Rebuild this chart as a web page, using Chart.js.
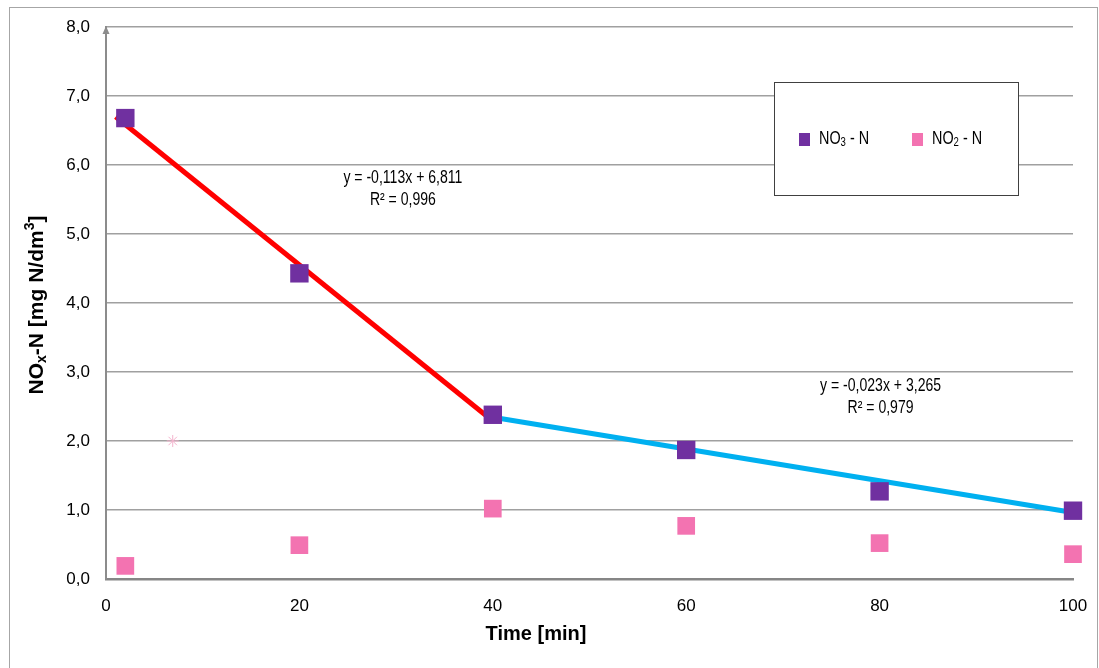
<!DOCTYPE html>
<html lang="en">
<head>
<meta charset="UTF-8">
<title>NOx-N over time</title>
<script src="https://cdn.jsdelivr.net/npm/chart.js"></script>
<style>
  html, body { margin: 0; padding: 0; background: #fff; }
  #wrap { width: 1099px; height: 668px; position: relative; }
</style>
</head>
<body>
<div id="wrap"><canvas id="chart"></canvas></div>
<script>
// measured points
const timeMin = [2, 20, 40, 60, 80, 100];
const no3 = [6.68, 4.43, 2.38, 1.87, 1.27, 0.99];
const no2 = [0.19, 0.49, 1.02, 0.77, 0.52, 0.36];

// trend lines, end points as drawn
const fit1X = [1, 40];
const fit1Y = [6.70, 2.29];
const fit2X = [40, 100];
const fit2Y = [2.345, 0.965];
const fit1Label = ['y = -0,113x + 6,811', 'R² = 0,996'];
const fit2Label = ['y = -0,023x + 3,265', 'R² = 0,979'];

// stray marker left in the sheet
const strayX = [6.9];
const strayY = [2.0];

const xTicks = [0, 20, 40, 60, 80, 100];
const yTicks = [0, 1, 2, 3, 4, 5, 6, 7, 8];

const PURPLE = '#7030A0';
const PINK = '#F373B1';
const FONT = '"Liberation Sans", Arial, sans-serif';

const toPts = (xs, ys) => xs.map((x, i) => ({ x: x, y: ys[i] }));

// draw a run of text pieces (sub/superscripts) starting at x
function drawRich(ctx, parts, x, y, align, sx) {
  sx = sx || 1;
  let w = 0;
  parts.forEach(p => { ctx.font = p.f; w += ctx.measureText(p.t).width; });
  ctx.save();
  ctx.translate(x, y);
  ctx.scale(sx, 1);
  let cx = align === 'center' ? -w / 2 : 0;
  parts.forEach(p => {
    ctx.font = p.f;
    ctx.fillText(p.t, cx, p.dy || 0);
    cx += ctx.measureText(p.t).width;
  });
  ctx.restore();
}

const decor = {
  id: 'decor',
  afterDraw(chart) {
    const ctx = chart.ctx;
    const xs = chart.scales.x, ys = chart.scales.y;
    const area = chart.chartArea;
    ctx.save();

    // outer frame
    ctx.strokeStyle = '#A6A6A6';
    ctx.lineWidth = 1;
    ctx.strokeRect(9.5, 7.5, 1088, 700);

    // arrow head on the y axis
    ctx.fillStyle = '#8C8C8C';
    ctx.beginPath();
    ctx.moveTo(area.left, area.top - 1);
    ctx.lineTo(area.left - 3.5, area.top + 7);
    ctx.lineTo(area.left + 3.5, area.top + 7);
    ctx.closePath();
    ctx.fill();

    ctx.fillStyle = '#000';
    ctx.textBaseline = 'middle';

    // y axis title
    ctx.save();
    ctx.translate(37, 305);
    ctx.rotate(-Math.PI / 2);
    const b = 'bold 21px ' + FONT, bs = 'bold 14px ' + FONT;
    drawRich(ctx, [
      { t: 'NO', f: b }, { t: 'x', f: bs, dy: 5 },
      { t: '-N [mg N/dm', f: b }, { t: '3', f: bs, dy: -7 }, { t: ']', f: b }
    ], 0, 0, 'center');
    ctx.restore();

    // x axis title
    ctx.font = 'bold 20px ' + FONT;
    ctx.textAlign = 'center';
    ctx.fillText('Time [min]', 536, 634);

    // trend line equations
    ctx.textAlign = 'left';
    const ef = '18px ' + FONT;
    [[fit1Label, 30.7, 5.65], [fit2Label, 80.1, 2.64]].forEach(e => {
      const px = xs.getPixelForValue(e[1]);
      const py = ys.getPixelForValue(e[2]);
      drawRich(ctx, [{ t: e[0][0], f: ef }], px, py - 11, 'center', 0.78);
      drawRich(ctx, [{ t: e[0][1], f: ef }], px, py + 11, 'center', 0.78);
    });

    // legend box
    ctx.fillStyle = '#fff';
    ctx.fillRect(774, 82, 244, 113);
    ctx.strokeStyle = '#404040';
    ctx.strokeRect(774.5, 82.5, 244, 113);
    const lf = '18px ' + FONT, ls = '12px ' + FONT;
    const items = [
      { c: PURPLE, x: 799, sub: '3' },
      { c: PINK, x: 912, sub: '2' }
    ];
    items.forEach(it => {
      ctx.fillStyle = it.c;
      ctx.fillRect(it.x, 133, 11, 13);
      ctx.fillStyle = '#000';
      drawRich(ctx, [
        { t: 'NO', f: lf }, { t: it.sub, f: ls, dy: 4 }, { t: ' - N', f: lf }
      ], it.x + 20, 139, 'left', 0.8);
    });

    ctx.restore();
  }
};

new Chart(document.getElementById('chart'), {
  type: 'scatter',
  data: {
    datasets: [
      {
        label: 'NO3 - N',
        data: toPts(timeMin, no3),
        pointStyle: 'rect',
        pointRadius: 13,
        backgroundColor: PURPLE,
        borderColor: PURPLE,
        borderWidth: 0,
        clip: false,
        order: 0
      },
      {
        label: 'NO2 - N',
        data: toPts(timeMin, no2),
        pointStyle: 'rect',
        pointRadius: 12.5,
        backgroundColor: PINK,
        borderColor: PINK,
        borderWidth: 0,
        clip: false,
        order: 0
      },
      {
        label: 'stray',
        data: toPts(strayX, strayY),
        pointStyle: 'star',
        pointRadius: 6,
        borderColor: '#F4B4CE',
        borderWidth: 1,
        order: 0
      },
      {
        label: 'fit 1',
        data: toPts(fit1X, fit1Y),
        showLine: true,
        borderColor: '#FF0000',
        borderWidth: 5,
        pointRadius: 0,
        clip: false,
        order: 1
      },
      {
        label: 'fit 2',
        data: toPts(fit2X, fit2Y),
        showLine: true,
        borderColor: '#00B0F0',
        borderWidth: 5,
        pointRadius: 0,
        clip: false,
        order: 1
      }
    ]
  },
  options: {
    responsive: true,
    maintainAspectRatio: false,
    animation: false,
    events: [],
    layout: { padding: { left: 0, right: 26, top: 27, bottom: 0 } },
    plugins: {
      legend: { display: false },
      tooltip: { enabled: false }
    },
    scales: {
      x: {
        type: 'linear',
        min: 0,
        max: 100,
        afterBuildTicks: s => { s.ticks = xTicks.map(v => ({ value: v })); },
        afterFit: s => { s.height = 89; s.paddingLeft = 0; s.paddingRight = 0; },
        grid: { display: false, drawTicks: false },
        border: { display: true, color: '#868686', width: 2.5 },
        ticks: {
          padding: 17,
          color: '#000',
          font: { family: FONT, size: 17 },
          maxRotation: 0
        }
      },
      y: {
        min: 0,
        max: 8,
        afterBuildTicks: s => { s.ticks = yTicks.map(v => ({ value: v })); },
        afterFit: s => { s.width = 106; },
        grid: { color: '#A0A0A0', lineWidth: 1.5, drawTicks: false },
        border: { display: true, color: '#8C8C8C', width: 2 },
        ticks: {
          padding: 16,
          color: '#000',
          font: { family: FONT, size: 17 },
          callback: v => v.toFixed(1).replace('.', ',')
        }
      }
    }
  },
  plugins: [decor]
});
</script>
</body>
</html>
